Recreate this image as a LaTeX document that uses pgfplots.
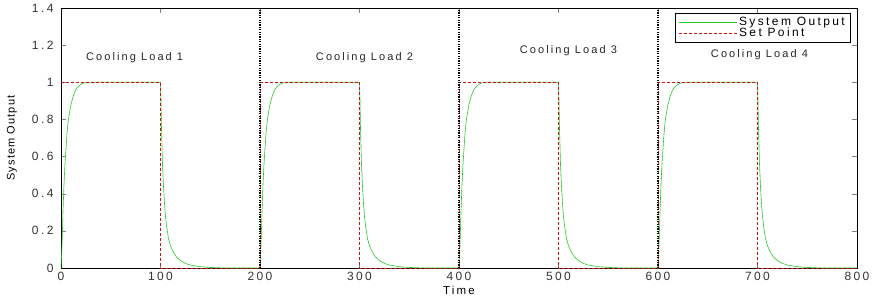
\documentclass[border=0pt]{standalone}
\usepackage{fontspec}
\usepackage{pgfplots}
\pgfplotsset{compat=1.18}
\setmainfont{Liberation Sans}
\newfontfamily\mf[LetterSpace=19]{Liberation Sans}
\newfontfamily\mft[LetterSpace=20]{Liberation Sans}
\newfontfamily\mfy[LetterSpace=10]{Liberation Sans}
\definecolor{sysgreen}{RGB}{40,200,40}
\definecolor{spred}{RGB}{200,20,20}
\begin{document}
\begin{tikzpicture}
\useasboundingbox (-61pt,-30pt) rectangle (814pt,268pt);
\begin{axis}[
  at={(0,0)}, anchor=south west,
  scale only axis, width=796pt, height=260pt,
  xmin=0, xmax=800, ymin=0, ymax=1.4,
  xtick={0,100,...,800}, ytick={0,0.2,...,1.4},
  tick align=inside, tick pos=both, major tick length=5pt,
  /pgf/number format/assume math mode=true,
  ticklabel style={font=\mft\fontsize{12}{13}\selectfont, text=black!80},
  xticklabel style={yshift=-1pt},
  yticklabel style={xshift=-4pt},
  xlabel={Time}, ylabel={System Output},
  xlabel style={at={(axis description cs:0.5,0)}, anchor=center, yshift=-22pt, font=\mf\fontsize{11.5}{13}\selectfont},
  ylabel style={at={(axis description cs:-0.0616,0.5)}, anchor=center, font=\mfy\fontsize{11}{13}\selectfont},
  legend style={at={(rel axis cs:1,1)}, anchor=north east, xshift=-7pt, yshift=-5pt,
    font=\mft\fontsize{12}{13}\selectfont, row sep=-3pt},
  legend cell align=left,
  axis line style={black, line width=0.6pt},
]
\addlegendimage{sysgreen, line width=0.8pt, xscale=3.4}
\addlegendentry{System Output}
\addlegendimage{spred, dash pattern=on 3pt off 2pt, line width=0.8pt, xscale=3.4}
\addlegendentry{Set Point}
\addplot[sysgreen, line width=0.6pt, forget plot] coordinates {
(0,0)(1,0.12)(2,0.3)(3,0.45)(4,0.56)(5,0.64)(6,0.72)(7,0.78)(8,0.82)(10,0.88)(12,0.92)(14,0.95)(16,0.97)(19,0.985)(22,0.995)(26,1)(100,1)
(100.5,0.9)(101,0.75)(102,0.56)(103,0.44)(104,0.35)(105,0.28)(106,0.23)(108,0.16)(110,0.12)(113,0.085)(116,0.06)(120,0.04)(125,0.025)(130,0.016)(140,0.007)(150,0.003)(160,0.001)(170,0)(200,0)
(201,0.12)(202,0.3)(203,0.45)(204,0.56)(205,0.64)(206,0.72)(207,0.78)(208,0.82)(210,0.88)(212,0.92)(214,0.95)(216,0.97)(219,0.985)(222,0.995)(226,1)(300,1)
(300.5,0.9)(301,0.75)(302,0.56)(303,0.44)(304,0.35)(305,0.28)(306,0.23)(308,0.16)(310,0.12)(313,0.085)(316,0.06)(320,0.04)(325,0.025)(330,0.016)(340,0.007)(350,0.003)(360,0.001)(370,0)(400,0)
(401,0.12)(402,0.3)(403,0.45)(404,0.56)(405,0.64)(406,0.72)(407,0.78)(408,0.82)(410,0.88)(412,0.92)(414,0.95)(416,0.97)(419,0.985)(422,0.995)(426,1)(500,1)
(500.5,0.9)(501,0.75)(502,0.56)(503,0.44)(504,0.35)(505,0.28)(506,0.23)(508,0.16)(510,0.12)(513,0.085)(516,0.06)(520,0.04)(525,0.025)(530,0.016)(540,0.007)(550,0.003)(560,0.001)(570,0)(600,0)
(601,0.12)(602,0.3)(603,0.45)(604,0.56)(605,0.64)(606,0.72)(607,0.78)(608,0.82)(610,0.88)(612,0.92)(614,0.95)(616,0.97)(619,0.985)(622,0.995)(626,1)(700,1)
(700.5,0.9)(701,0.75)(702,0.56)(703,0.44)(704,0.35)(705,0.28)(706,0.23)(708,0.16)(710,0.12)(713,0.085)(716,0.06)(720,0.04)(725,0.025)(730,0.016)(740,0.007)(750,0.003)(760,0.001)(770,0)(800,0)
};
\addplot[spred, dash pattern=on 3pt off 2pt, line width=0.6pt, const plot, forget plot] coordinates {
(0,1)(100,0)(200,1)(300,0)(400,1)(500,0)(600,1)(700,0)(800,0)
};
\addplot[black, dash pattern=on 1.2pt off 1.2pt, line width=1.1pt, forget plot] coordinates {(200,0)(200,1.4)};
\addplot[black, dash pattern=on 1.2pt off 1.2pt, line width=1.1pt, forget plot] coordinates {(400,0)(400,1.4)};
\addplot[black, dash pattern=on 1.2pt off 1.2pt, line width=1.1pt, forget plot] coordinates {(600,0)(600,1.4)};
\node[font=\mf\fontsize{11}{13}\selectfont, text=black!85] at (axis cs:74,1.13) {Cooling Load 1};
\node[font=\mf\fontsize{11}{13}\selectfont, text=black!85] at (axis cs:305,1.135) {Cooling Load 2};
\node[font=\mf\fontsize{11}{13}\selectfont, text=black!85] at (axis cs:510,1.17) {Cooling Load 3};
\node[font=\mf\fontsize{11}{13}\selectfont, text=black!85] at (axis cs:702,1.15) {Cooling Load 4};
\end{axis}
\end{tikzpicture}
\end{document}
